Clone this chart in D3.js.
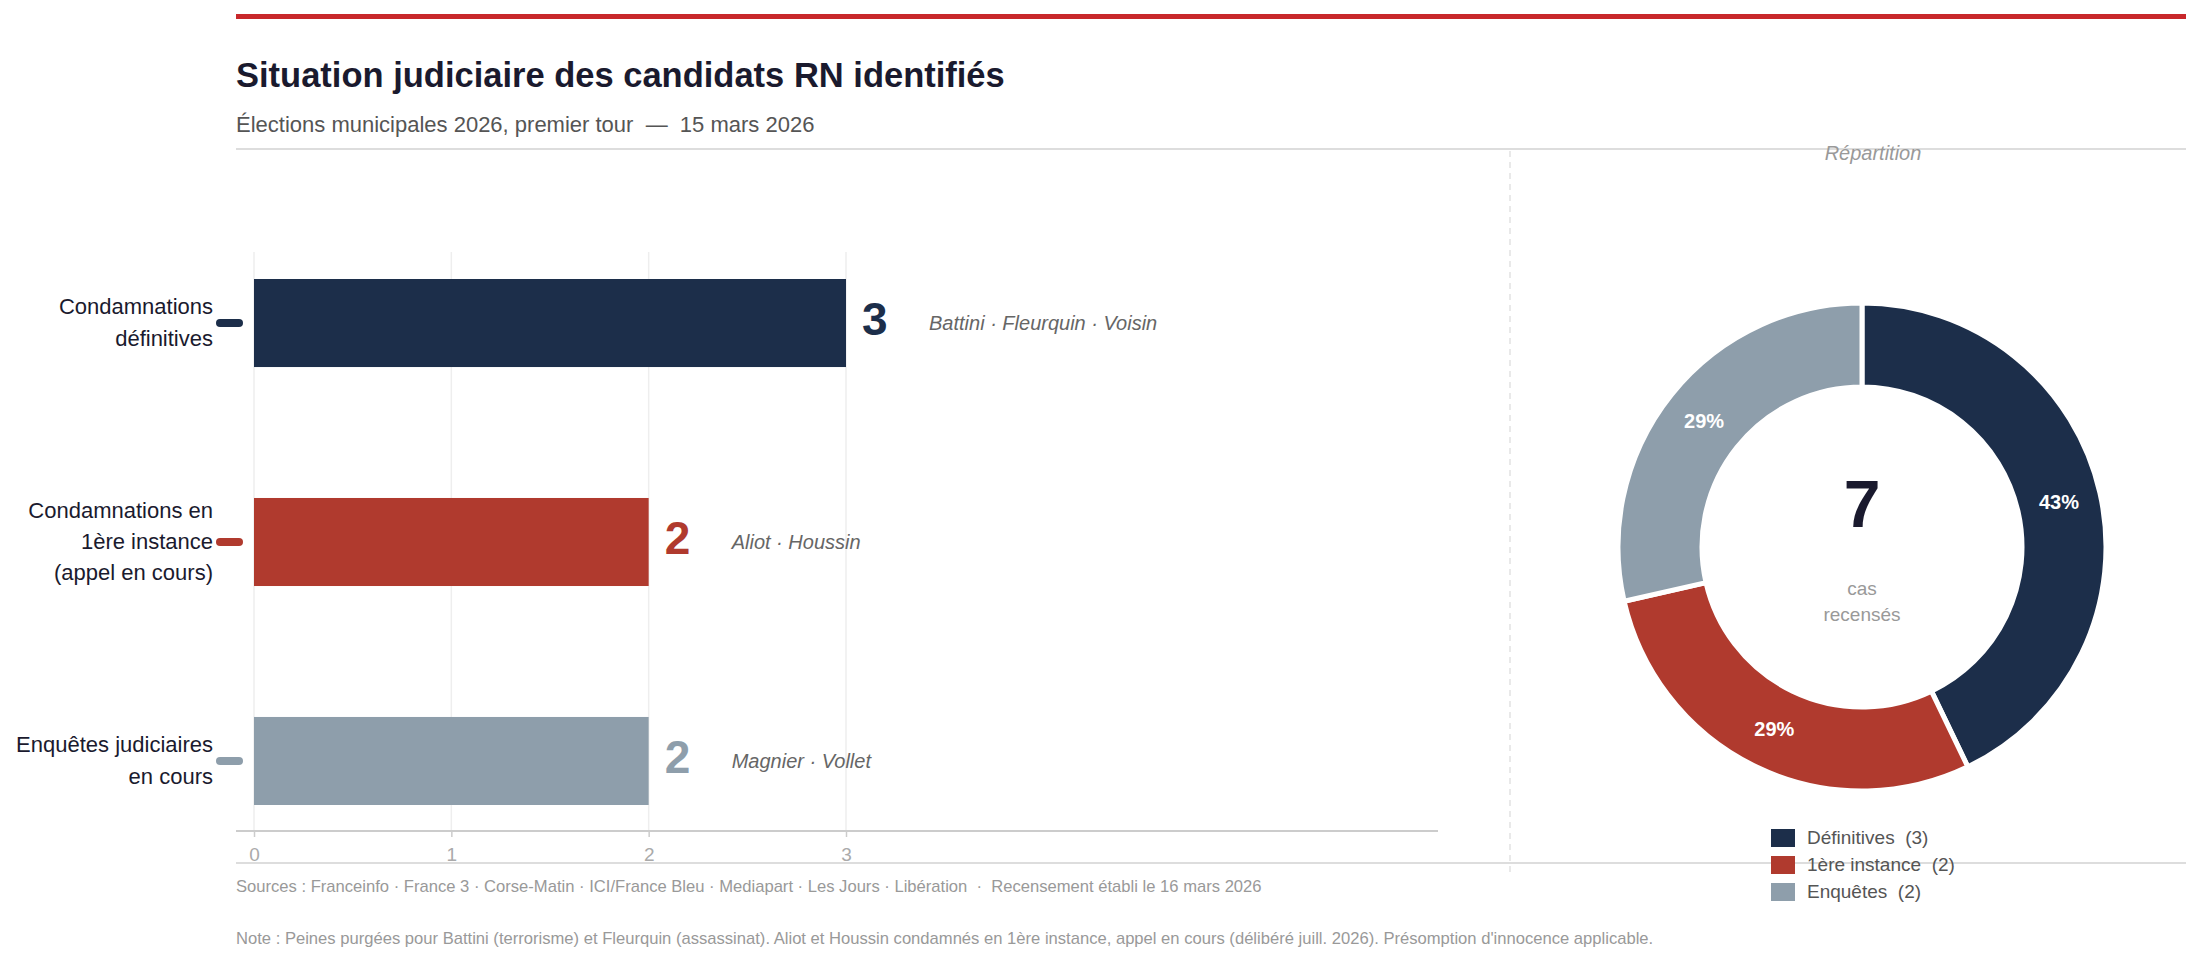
<!DOCTYPE html>
<html>
<head>
<meta charset="utf-8">
<script src="https://cdn.jsdelivr.net/npm/d3@7"></script>
<style>
  body { margin: 0; background: #fff; }
  svg { font-family: "Liberation Sans", Arial, sans-serif; display: block; }
</style>
</head>
<body>
<div id="chart"></div>
<script>
const W = 2200;
const H = 964;

// Data
const categories = [
  ["Condamnations", "définitives"],
  ["Condamnations en", "1ère instance", "(appel en cours)"],
  ["Enquêtes judiciaires", "en cours"],
];
const counts = [3, 2, 2];
const names = ["Battini · Fleurquin · Voisin", "Aliot · Houssin", "Magnier · Vollet"];
const legendLabels = ["Définitives", "1ère instance", "Enquêtes"];
const colors = ["#1c2e4a", "#b03a2e", "#8e9eab"];
const xTicks = [0, 1, 2, 3];

const svg = d3
  .select("#chart")
  .append("svg")
  .attr("width", W)
  .attr("height", H);

// Header
svg.append("rect").attr("x", 236).attr("y", 14).attr("width", 1950).attr("height", 5).attr("fill", "#c8282b");

svg.append("text")
  .attr("x", 236)
  .attr("y", 87)
  .attr("font-size", 34.5)
  .attr("font-weight", "bold")
  .attr("fill", "#1a1a2e")
  .text("Situation judiciaire des candidats RN identifiés");

svg.append("text")
  .attr("x", 236)
  .attr("y", 132)
  .attr("font-size", 22)
  .attr("fill", "#555")
  .attr("xml:space", "preserve")
  .text("Élections municipales 2026, premier tour  —  15 mars 2026");

svg.append("line").attr("x1", 236).attr("x2", 2186).attr("y1", 149).attr("y2", 149)
  .attr("stroke", "#ddd").attr("stroke-width", 2);

// Divider
svg.append("line").attr("x1", 1510).attr("x2", 1510).attr("y1", 151).attr("y2", 874)
  .attr("stroke", "#e2e2e2").attr("stroke-width", 1.5).attr("stroke-dasharray", "6,5");

// Bar chart
const x = d3.scaleLinear().domain([0, 3]).range([254, 846]);
const y = d3.scaleBand().domain(d3.range(counts.length)).range([279, 805]).paddingInner(0.598).paddingOuter(0);
const AXIS_Y = 831;

const grid = svg.append("g");
grid.selectAll("line")
  .data(xTicks)
  .join("line")
  .attr("x1", (d) => x(d))
  .attr("x2", (d) => x(d))
  .attr("y1", 252)
  .attr("y2", AXIS_Y)
  .attr("stroke", "#eee")
  .attr("stroke-width", 1.5);

const xAxis = svg.append("g")
  .attr("transform", `translate(0, ${AXIS_Y})`)
  .call(d3.axisBottom(x).tickValues(xTicks).tickFormat(d3.format("d")).tickSize(6).tickPadding(11));
xAxis.select(".domain").remove();
xAxis.selectAll(".tick line").attr("stroke", "#ccc").attr("stroke-width", 1.5);
xAxis.selectAll(".tick text").attr("fill", "#aaa").attr("font-size", 19).attr("font-family", "Liberation Sans, Arial, sans-serif");

svg.append("line").attr("x1", 236).attr("x2", 1438).attr("y1", AXIS_Y).attr("y2", AXIS_Y)
  .attr("stroke", "#ccc").attr("stroke-width", 2);

const rows = svg.append("g")
  .selectAll("g")
  .data(counts)
  .join("g")
  .attr("transform", (d, i) => `translate(0, ${y(i)})`);

const bh = y.bandwidth();

rows.append("rect")
  .attr("x", x(0))
  .attr("y", 0)
  .attr("width", (d) => x(d) - x(0))
  .attr("height", bh)
  .attr("fill", (d, i) => colors[i]);

rows.append("rect")
  .attr("x", 216)
  .attr("y", bh / 2 - 4)
  .attr("width", 27)
  .attr("height", 8)
  .attr("rx", 4)
  .attr("fill", (d, i) => colors[i]);

rows.append("text")
  .attr("x", 213)
  .attr("text-anchor", "end")
  .attr("font-size", 22)
  .attr("fill", "#1a1a2e")
  .each(function (d, i) {
    const lines = categories[i];
    const lh = 31.5;
    const top = bh / 2 - ((lines.length - 1) * lh) / 2 + 7;
    d3.select(this)
      .selectAll("tspan")
      .data(lines)
      .join("tspan")
      .attr("x", 213)
      .attr("y", (l, j) => top + j * lh)
      .text((l) => l);
  });

rows.append("text")
  .attr("x", (d) => x(d) + 16)
  .attr("y", bh / 2 + 12)
  .attr("font-size", 46)
  .attr("font-weight", "bold")
  .attr("fill", (d, i) => colors[i])
  .text((d) => d);

rows.append("text")
  .attr("x", (d) => x(d) + 83)
  .attr("y", bh / 2 + 7)
  .attr("font-size", 20)
  .attr("font-style", "italic")
  .attr("fill", "#666")
  .text((d, i) => names[i]);

// Footer
svg.append("line").attr("x1", 236).attr("x2", 2186).attr("y1", 863).attr("y2", 863)
  .attr("stroke", "#ddd").attr("stroke-width", 2);

svg.append("text")
  .attr("x", 236)
  .attr("y", 892)
  .attr("font-size", 16.6)
  .attr("fill", "#999")
  .attr("xml:space", "preserve")
  .text("Sources : Franceinfo · France 3 · Corse-Matin · ICI/France Bleu · Mediapart · Les Jours · Libération  ·  Recensement établi le 16 mars 2026");

svg.append("text")
  .attr("x", 236)
  .attr("y", 944)
  .attr("font-size", 16.6)
  .attr("fill", "#999")
  .text("Note : Peines purgées pour Battini (terrorisme) et Fleurquin (assassinat). Aliot et Houssin condamnés en 1ère instance, appel en cours (délibéré juill. 2026). Présomption d'innocence applicable.");

// Donut
const CX = 1862;
const CY = 547;
const total = d3.sum(counts);

svg.append("text")
  .attr("x", 1873)
  .attr("y", 160)
  .attr("text-anchor", "middle")
  .attr("font-size", 20)
  .attr("font-style", "italic")
  .attr("fill", "#999")
  .text("Répartition");

const pie = d3.pie().sort(null).value((d) => d);
const arc = d3.arc().innerRadius(160).outerRadius(244);
const labelArc = d3.arc().innerRadius(202).outerRadius(202);

const donut = svg.append("g").attr("transform", `translate(${CX}, ${CY})`);

donut.selectAll("path")
  .data(pie(counts))
  .join("path")
  .attr("d", arc)
  .attr("fill", (d, i) => colors[i])
  .attr("stroke", "#fff")
  .attr("stroke-width", 5);

donut.selectAll("text.pct")
  .data(pie(counts))
  .join("text")
  .attr("class", "pct")
  .attr("transform", (d) => `translate(${labelArc.centroid(d)})`)
  .attr("text-anchor", "middle")
  .attr("dy", "0.35em")
  .attr("font-size", 20)
  .attr("font-weight", "bold")
  .attr("fill", "#fff")
  .text((d) => `${Math.round((d.data / total) * 100)}%`);

donut.append("text")
  .attr("y", -20)
  .attr("text-anchor", "middle")
  .attr("font-size", 66)
  .attr("font-weight", "bold")
  .attr("fill", "#1a1a2e")
  .text(total);

donut.append("text")
  .attr("text-anchor", "middle")
  .attr("font-size", 19)
  .attr("fill", "#999")
  .selectAll("tspan")
  .data(["cas", "recensés"])
  .join("tspan")
  .attr("x", 0)
  .attr("y", (d, i) => 48 + i * 26)
  .text((d) => d);

const legend = svg.append("g")
  .selectAll("g")
  .data(counts)
  .join("g")
  .attr("transform", (d, i) => `translate(1771, ${829 + i * 27})`);

legend.append("rect")
  .attr("width", 24)
  .attr("height", 18)
  .attr("fill", (d, i) => colors[i]);

legend.append("text")
  .attr("x", 36)
  .attr("y", 15)
  .attr("font-size", 19)
  .attr("fill", "#555")
  .attr("xml:space", "preserve")
  .text((d, i) => `${legendLabels[i]}  (${d})`);
</script>
</body>
</html>
